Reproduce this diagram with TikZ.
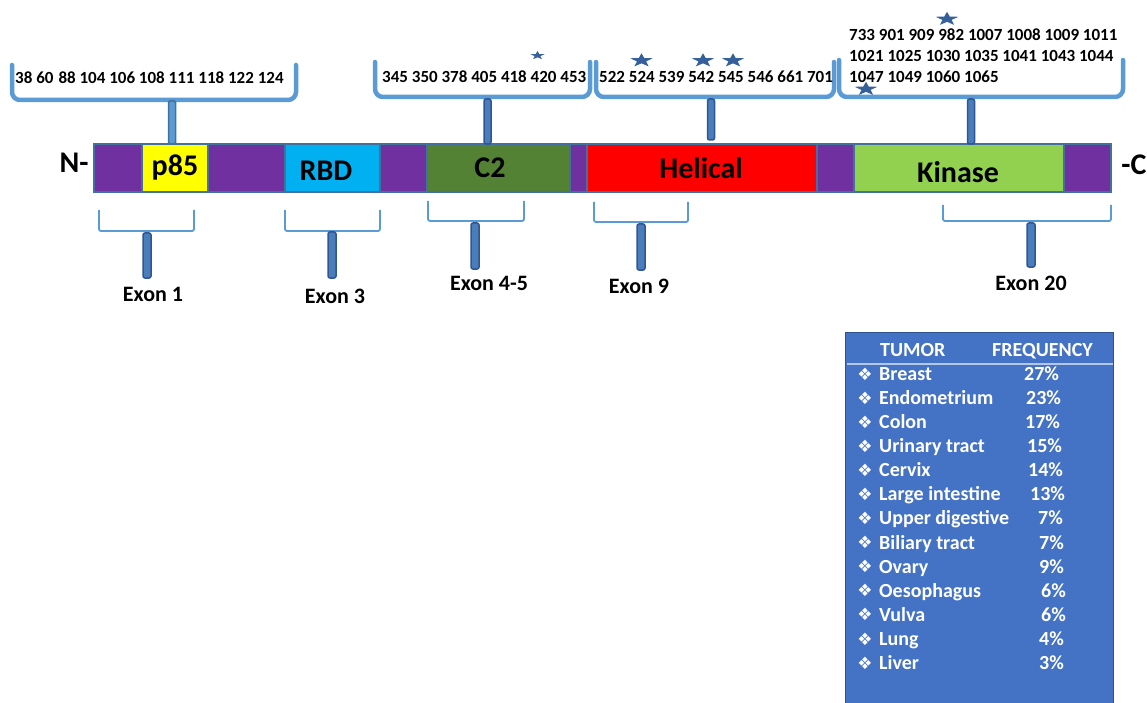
\documentclass[tikz,border=0pt]{standalone}
\usepackage{fontspec}
\setmainfont{Carlito}
\newfontfamily\symfont{DejaVu Sans}
\usetikzlibrary{shapes.geometric}
\definecolor{purp}{HTML}{7030A0}
\definecolor{yel}{HTML}{FFFF00}
\definecolor{cyanb}{HTML}{00B0F0}
\definecolor{dgreen}{HTML}{548235}
\definecolor{redd}{HTML}{FF0000}
\definecolor{lgreen}{HTML}{92D050}
\definecolor{barblue}{HTML}{41719C}
\definecolor{brblue}{HTML}{5B9BD5}
\definecolor{stemfill}{HTML}{4A7EBB}
\definecolor{stemdraw}{HTML}{2F5597}
\definecolor{starblue}{HTML}{35609A}
\definecolor{tabfill}{HTML}{4472C4}
\definecolor{tabdraw}{HTML}{2F528F}
\definecolor{tabline}{HTML}{B4C7E7}
\begin{document}
\begin{tikzpicture}[x=1pt,y=-1pt,
  seg/.style={draw=barblue,line width=1.2pt,minimum height=48pt,inner sep=0pt,outer sep=0pt},
  domlab/.style={font=\fontsize{30}{32}\selectfont\bfseries,text=black,inner sep=0pt},
  endlab/.style={font=\fontsize{30}{32}\selectfont\bfseries,text=black,inner sep=0pt},
  numtxt/.style={font=\fontsize{17}{21}\selectfont\bfseries,text=black,inner sep=0pt,anchor=west,align=left},
  topbr/.style={draw=brblue,line width=4.5pt,rounded corners=8pt,line cap=round},
  stemtop/.style={draw=barblue,fill=brblue,line width=1.5pt,rounded corners=1.5pt},
  stembox/.style={draw=stemdraw,fill=stemfill,line width=1.5pt,rounded corners=2pt},
  botbr/.style={draw=brblue,line width=1.8pt,rounded corners=2pt},
  exlab/.style={font=\fontsize{22}{24}\selectfont\bfseries,text=black,inner sep=0pt},
  starshape/.style={star,star points=5,star point ratio=2.5,fill=starblue,draw=none,inner sep=0pt,yscale=0.6,transform shape},
  tabtxt/.style={font=\fontsize{20}{22}\selectfont\bfseries,text=white,inner sep=0pt,anchor=base west},
  bul/.style={font=\symfont\fontsize{17}{18}\selectfont,text=white,inner sep=0pt}
]
\useasboundingbox (0,0) rectangle (1147,703);

% ---------- main bar ----------
\node[seg,fill=purp,minimum width=48pt]  (n1) at (118,168) {};
\node[seg,fill=yel,minimum width=66pt]   (p85) at (175,168) {};
\node[seg,fill=purp,minimum width=77pt]  (n2) at (246.5,168) {};
\node[seg,fill=cyanb,minimum width=95pt] (rbd) at (332.5,168) {};
\node[seg,fill=purp,minimum width=47pt]  (n3) at (403.5,168) {};
\node[seg,fill=dgreen,minimum width=143pt] (c2) at (498.5,168) {};
\node[seg,fill=purp,minimum width=17pt]  (n4) at (578.5,168) {};
\node[seg,fill=redd,minimum width=230pt] (hel) at (702,168) {};
\node[seg,fill=purp,minimum width=37pt]  (n5) at (835.5,168) {};
\node[seg,fill=lgreen,minimum width=210pt] (kin) at (959,168) {};
\node[seg,fill=purp,minimum width=47pt]  (n6) at (1087.5,168) {};

\node[domlab] (lp85) at (175,168) {p85};
\node[domlab] (lrbd) at (326,171) {RBD};
\node[domlab] (lc2) at (490,168) {C2};
\node[domlab] (lhel) at (701,168) {Helical};
\node[domlab] (lkin) at (958,172) {Kinase};
\node[endlab] (nterm) at (74,163) {N-};
\node[endlab] (cterm) at (1134,165) {-C};

% ---------- top brackets ----------
\draw[topbr] (12,65) -- (12,100) -- (296,100) -- (296,65);
\draw[stemtop] (168.5,101) rectangle (175.5,144);
\node[numtxt] (t1) at (15,78) {38 60\hspace{5pt}88 104 106 108 111 118 122 124};

\draw[topbr] (375,62) -- (375,97) -- (590,97) -- (590,62);
\draw[stembox] (484,99) rectangle (491,144);
\node[numtxt] (t2) at (382,77) {345 350 378 405 418 420 453};
\node[starshape,minimum size=15pt] (s0) at (537.5,55.5) {};

\draw[topbr] (596,62) -- (596,97) -- (834,97) -- (834,62);
\draw[stembox] (707.5,99) rectangle (714.5,140);
\node[numtxt] (t3) at (599,77) {522 524 539 542 545 546 661 701};
\node[starshape,minimum size=24pt] (s1) at (641.5,60.5) {};
\node[starshape,minimum size=24pt] (s2) at (703,60.5) {};
\node[starshape,minimum size=24pt] (s3) at (733,60.5) {};

\draw[topbr] (839,60) -- (839,97) -- (1123,97) -- (1123,60);
\draw[stembox] (967.5,99) rectangle (974.5,144);
\node[numtxt,anchor=north west] (t4) at (849,29) {733 901 909 982 1007 1008 1009 1011\\1021 1025 1030 1035 1041 1043 1044\\1047 1049 1060 1065};
\node[starshape,minimum size=24pt] (s4) at (947,19) {};
\node[starshape,minimum size=24pt] (s5) at (866,89) {};

% ---------- bottom brackets (exons) ----------
\draw[botbr] (99,210) -- (99,231) -- (194,231) -- (194,210);
\draw[stembox] (143,233) rectangle (151,278);
\node[exlab] (e1) at (153,294) {Exon 1};

\draw[botbr] (285,210) -- (285,231) -- (380,231) -- (380,210);
\draw[stembox] (328,232) rectangle (336,278);
\node[exlab] (e3) at (335,296) {Exon 3};

\draw[botbr] (428,201) -- (428,221) -- (524,221) -- (524,201);
\draw[stembox] (471,223) rectangle (479,269);
\node[exlab] (e45) at (489,283) {Exon 4-5};

\draw[botbr] (594,202) -- (594,222) -- (688,222) -- (688,202);
\draw[stembox] (637,224) rectangle (645,270);
\node[exlab] (e9) at (639,286) {Exon 9};

\draw[botbr] (943,205) -- (943,221) -- (1111,221) -- (1111,205);
\draw[stembox] (1027,223) rectangle (1035,267);
\node[exlab] (e20) at (1031,283) {Exon 20};

% ---------- table ----------
\draw[draw=tabdraw,fill=tabfill,line width=1pt] (845,332) rectangle (1113,704);
\draw[draw=tabline,line width=1.5pt] (847,364) -- (1113,364);
\node[tabtxt] (hT) at (880,356.5) {TUMOR};
\node[tabtxt] (hF) at (992,356.5) {FREQUENCY};

\foreach \nm/\pc/\px [count=\i from 0] in {Breast/27/1024,Endometrium/23/1026,Colon/17/1025,Urinary tract/15/1027,Cervix/14/1028,Large intestine/13/1030,Upper digestive/7/1038,Biliary tract/7/1039,Ovary/9/1039,Oesophagus/6/1041,Vulva/6/1041,Lung/4/1039,Liver/3/1039}{
  \pgfmathsetmacro{\yy}{374+24.08*\i}
  \pgfmathsetmacro{\yb}{\yy+6.5}
  \node[bul] (b\i) at (865,\yy) {❖};
  \node[tabtxt] (r\i) at (879,\yb) {\nm};
  \node[tabtxt] (f\i) at (\px,\yb) {\pc\%};
}
\end{tikzpicture}
\end{document}
